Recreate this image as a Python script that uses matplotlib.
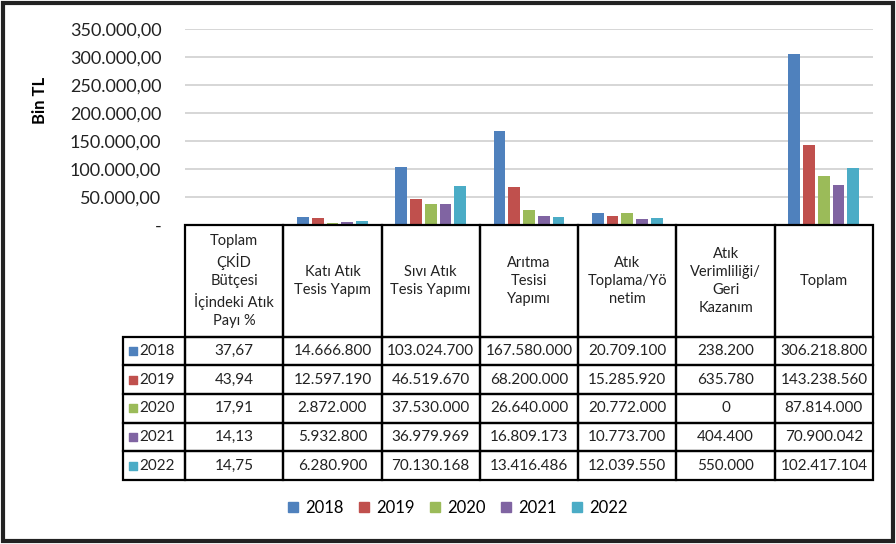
import matplotlib.pyplot as plt
import numpy as np
from matplotlib.patches import Rectangle
from matplotlib.ticker import FuncFormatter

plt.rcParams['font.family'] = ['Lato', 'DejaVu Sans']

# categories (header texts of the data table)
categories = ['Toplam\nÇKİD\nBütçesi\nİçindeki Atık\nPayı %',
              'Katı Atık\nTesis Yapım',
              'Sıvı Atık\nTesis Yapımı',
              'Arıtma\nTesisi\nYapımı',
              'Atık\nToplama/Yö\nnetim',
              'Atık\nVerimliliği/\nGeri\nKazanım',
              'Toplam']
years = ['2018', '2019', '2020', '2021', '2022']
colors = ['#4F81BD', '#C0504D', '#9BBB59', '#8064A2', '#4BACC6']

v2018 = [37.67, 14666800, 103024700, 167580000, 20709100, 238200, 306218800]
v2019 = [43.94, 12597190, 46519670, 68200000, 15285920, 635780, 143238560]
v2020 = [17.91, 2872000, 37530000, 26640000, 20772000, 0, 87814000]
v2021 = [14.13, 5932800, 36979969, 16809173, 10773700, 404400, 70900042]
v2022 = [14.75, 6280900, 70130168, 13416486, 12039550, 550000, 102417104]
series = [v2018, v2019, v2020, v2021, v2022]

yticks = [0, 50000, 100000, 150000, 200000, 250000, 300000, 350000]


def tr_num(v):
    return f'{v:,.0f}'.replace(',', '.')


def tr_pct(v):
    return f'{v:.2f}'.replace('.', ',')


def tick_fmt(v, pos):
    if v == 0:
        return '-'
    return f'{v:,.2f}'.replace(',', 'X').replace('.', ',').replace('X', '.')


W, H = 896, 544
fig = plt.figure(figsize=(W / 100, H / 100), dpi=100)

# plot area in pixels
px_left, px_right, px_top, px_zero = 185, 873, 29, 225
ax = fig.add_axes([px_left / W, 1 - px_zero / H, (px_right - px_left) / W, (px_zero - px_top) / H])

n = len(categories)
x = np.arange(n)
bw, step = 0.12, 0.15
for j, (yr, vals) in enumerate(zip(years, series)):
    ax.bar(x + (j - 2) * step, np.array(vals) / 1000, bw, color=colors[j], zorder=3, label=yr)

ax.set_xlim(-0.5, n - 0.5)
ax.set_ylim(0, 350000)
ax.set_yticks(yticks)
ax.yaxis.set_major_formatter(FuncFormatter(tick_fmt))
ax.grid(axis='y', color='#D0D0D0', lw=1.2, zorder=0)
ax.set_xticks([])
for s in ax.spines.values():
    s.set_visible(False)
ax.tick_params(axis='y', length=0, pad=17, labelsize=13, colors='#222222')
fig.text(40 / W, 1 - 100 / H, 'Bin TL', rotation=90, ha='center', va='center',
         fontsize=12, fontweight='bold')

# data table below the plot
lab_w = (185 - 123) / ((px_right - px_left) / n)
hdr_h = 3.9
tab_bottom = 480
tax = fig.add_axes([123 / W, 1 - tab_bottom / H, (px_right - 123) / W, (tab_bottom - px_zero) / H])
tax.set_xlim(-0.5 - lab_w, n - 0.5)
tax.set_ylim(hdr_h + len(years), 0)
tax.axis('off')

lw = 1.6
for i, cat in enumerate(categories):
    tax.add_patch(Rectangle((i - 0.5, 0), 1, hdr_h, fill=False, lw=lw, ec='black', clip_on=False))
    tax.text(i, hdr_h / 2, cat, ha='center', va='center', fontsize=10.5, linespacing=1.35, color='#222222')

for r, (yr, vals) in enumerate(zip(years, series)):
    y0 = hdr_h + r
    tax.add_patch(Rectangle((-0.5 - lab_w, y0), lab_w, 1, fill=False, lw=lw, ec='black', clip_on=False))
    tax.scatter([-0.5 - lab_w + 0.1], [y0 + 0.5], marker='s', s=30, color=colors[r], clip_on=False)
    tax.text(-0.5 - lab_w + 0.17, y0 + 0.5, yr, ha='left', va='center', fontsize=11, color='#222222')
    for i, v in enumerate(vals):
        tax.add_patch(Rectangle((i - 0.5, y0), 1, 1, fill=False, lw=lw, ec='black', clip_on=False))
        txt = tr_pct(v) if i == 0 else tr_num(v)
        tax.text(i, y0 + 0.5, txt, ha='center', va='center', fontsize=11, color='#222222')

handles = [Rectangle((0, 0), 1, 1, color=c) for c in colors]
fig.legend(handles, years, loc='center', bbox_to_anchor=(458 / W, 1 - 508 / H), ncol=5,
           frameon=False, fontsize=12, handlelength=0.6, handleheight=0.6,
           handletextpad=0.4, columnspacing=0.95)

fig.patches.append(Rectangle((3 / W, 3 / H), (W - 6) / W, (H - 6) / H, transform=fig.transFigure,
                             fill=False, lw=3, ec='#222222'))

fig.savefig('out.png', dpi=100)
